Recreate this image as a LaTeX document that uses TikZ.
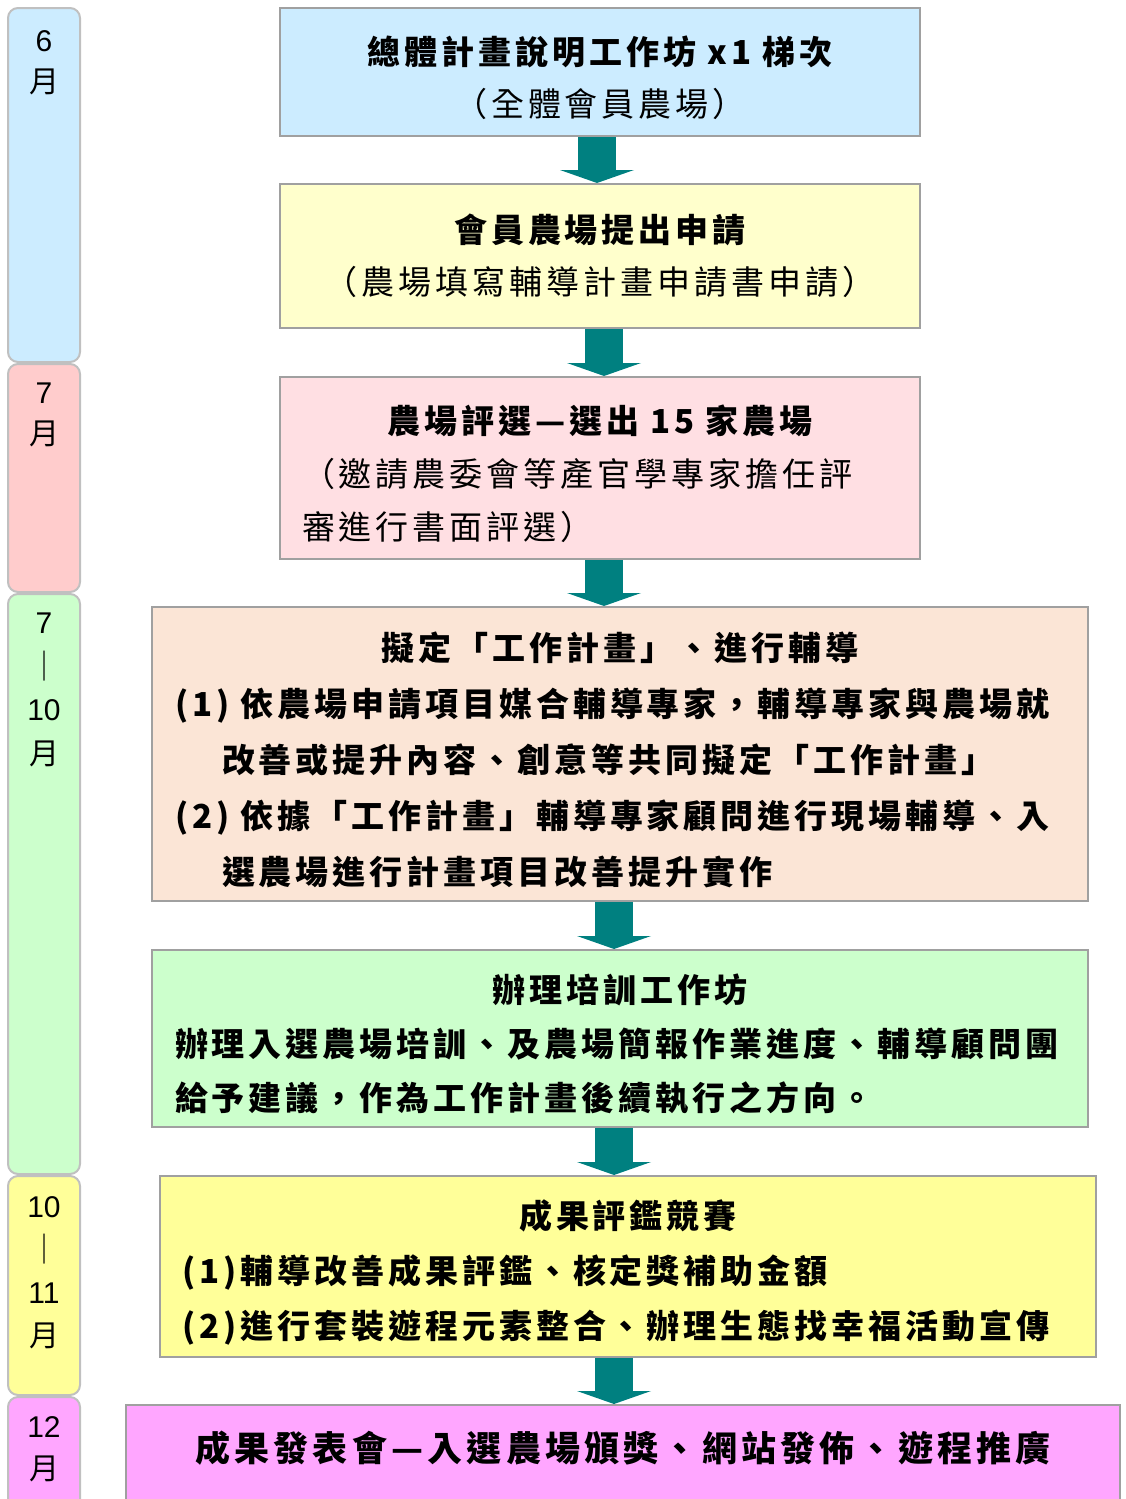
\documentclass[tikz,border=0pt]{standalone}
\usepackage{fontspec}
\setmainfont{Liberation Sans}
\newfontfamily\cjk{Noto Sans CJK TC}[LetterSpace=12]
\newfontfamily\cjkplain{Noto Sans CJK TC}
\usetikzlibrary{positioning,arrows.meta}
\definecolor{sky}{HTML}{CCECFF}
\definecolor{rosemonth}{HTML}{FFCCCC}
\definecolor{mint}{HTML}{CCFFCC}
\definecolor{lemon}{HTML}{FFFF99}
\definecolor{orchid}{HTML}{FFA6FF}
\definecolor{cream}{HTML}{FFFFCC}
\definecolor{blush}{HTML}{FFDFE3}
\definecolor{peach}{HTML}{FBE5D6}
\definecolor{darkteal}{HTML}{008080}
\definecolor{monthedge}{HTML}{C0C0C0}
\definecolor{boxedge}{HTML}{A0A0A0}

\begin{document}
\begin{tikzpicture}[x=1pt,y=-1pt,
  monthbox/.style={draw=monthedge,line width=2pt,rounded corners=10pt,minimum width=72pt,inner sep=0pt},
  monthlabel/.style={anchor=north,align=center,inner sep=0pt,font=\fontsize{30}{41}\selectfont},
  stepbox/.style={draw=boxedge,line width=2pt,inner sep=0pt},
  toppad/.style={execute at begin node=\rule{0pt}{40pt}},
  flowarrow/.style={draw=darkteal,line width=38pt,-{Triangle[width=74pt,length=13pt,line width=0pt]}}]
\useasboundingbox (0,0) rectangle (1126,1499);

\node[monthbox,fill=sky,minimum height=354pt] (m6) at (44,185) {};
\node[monthbox,fill=rosemonth,minimum height=228pt] (m7) at (44,478) {};
\node[monthbox,fill=mint,minimum height=580pt] (m710) at (44,884) {};
\node[monthbox,fill=lemon,minimum height=219pt] (m1011) at (44,1285.5) {};
\node[monthbox,fill=orchid,minimum height=133pt] (m12) at (44,1463.5) {};

\node[monthlabel,below=23pt of m6.north] (l6) {6\\{\cjkplain 月}};
\node[monthlabel,below=20pt of m7.north] (l7) {7\\{\cjkplain 月}};
\node[monthlabel,below=20pt of m710.north,font=\fontsize{30}{43.5}\selectfont] (l710) {7\\{\cjkplain ｜}\\10\\{\cjkplain 月}};
\node[monthlabel,below=21pt of m1011.north,font=\fontsize{30}{43}\selectfont] (l1011) {10\\{\cjkplain ｜}\\11\\{\cjkplain 月}};
\node[monthlabel,below=20pt of m12.north,font=\fontsize{30}{42}\selectfont] (l12) {12\\{\cjkplain 月}};

\node[stepbox,toppad,fill=sky,minimum width=640pt,minimum height=128pt,text width=620pt,align=center,
  font=\cjk\fontsize{33}{52}\selectfont] (b1) at (600,72)
  {{\bfseries 總體計畫說明工作坊 x1 梯次}\\（全體會員農場）};
\node[stepbox,fill=cream,minimum width=640pt,minimum height=144pt,text width=620pt,align=center,
  font=\cjk\fontsize{33}{52}\selectfont] (b2) at (600,256)
  {{\bfseries 會員農場提出申請}\\（農場填寫輔導計畫申請書申請）};
\node[stepbox,toppad,fill=blush,minimum width=640pt,minimum height=182pt,text width=596pt,align=left,
  font=\cjk\fontsize{33}{53}\selectfont] (b3) at (600,468)
  {\makebox[\linewidth]{\bfseries 農場評選—選出 15 家農場}\\（邀請農委會等產官學專家擔任評\\審進行書面評選）};
\node[stepbox,toppad,fill=peach,minimum width=936pt,minimum height=294pt,text width=890pt,align=left,
  font=\cjk\bfseries\fontsize{33}{56}\selectfont] (b4) at (620,754)
  {\makebox[\linewidth]{擬定「工作計畫」、進行輔導}\\
   (1) 依農場申請項目媒合輔導專家，輔導專家與農場就\\
   \hspace*{47pt}改善或提升內容、創意等共同擬定「工作計畫」\\
   (2) 依據「工作計畫」輔導專家顧問進行現場輔導、入\\
   \hspace*{47pt}選農場進行計畫項目改善提升實作};
\node[stepbox,toppad,fill=mint,minimum width=936pt,minimum height=177pt,text width=890pt,align=left,
  font=\cjk\bfseries\fontsize{33}{54}\selectfont] (b5) at (620,1038.5)
  {\makebox[\linewidth]{辦理培訓工作坊}\\
   辦理入選農場培訓、及農場簡報作業進度、輔導顧問團\\
   給予建議，作為工作計畫後續執行之方向。};
\node[stepbox,toppad,fill=lemon,minimum width=936pt,minimum height=181pt,text width=892pt,align=left,
  font=\cjk\bfseries\fontsize{33}{55}\selectfont] (b6) at (628,1266.5)
  {\makebox[\linewidth]{成果評鑑競賽}\\
   (1)輔導改善成果評鑑、核定獎補助金額\\
   (2)進行套裝遊程元素整合、辦理生態找幸福活動宣傳};
\node[stepbox,fill=orchid,minimum width=994pt,minimum height=110pt,text width=950pt,align=center,
  text depth=28pt,font=\cjk\bfseries\fontsize{35}{54}\selectfont] (b7) at (623,1460)
  {成果發表會—入選農場頒獎、網站發佈、遊程推廣};

\draw[flowarrow] ([xshift=-3pt]b1.south) -- ([xshift=-3pt]b2.north);
\draw[flowarrow] ([xshift=4pt]b2.south) -- ([xshift=4pt]b3.north);
\draw[flowarrow] ([xshift=4pt]b3.south) -- ([xshift=-16pt]b4.north);
\draw[flowarrow] ([xshift=-6pt]b4.south) -- ([xshift=-6pt]b5.north);
\draw[flowarrow] ([xshift=-6pt]b5.south) -- ([xshift=-14pt]b6.north);
\draw[flowarrow] ([xshift=-14pt]b6.south) -- ([xshift=-9pt]b7.north);
\end{tikzpicture}
\end{document}
